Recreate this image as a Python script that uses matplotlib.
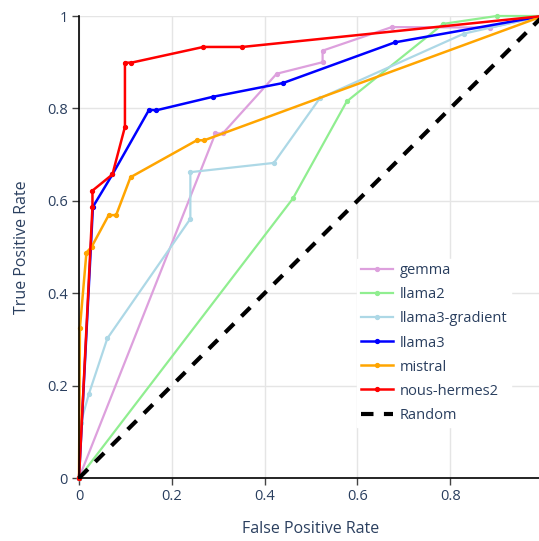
import matplotlib.pyplot as plt

# ROC points
gemma_fpr = [0, 0.294, 0.31, 0.426, 0.525, 0.525, 0.674, 0.886, 1.0]
gemma_tpr = [0, 0.746, 0.746, 0.875, 0.900, 0.925, 0.976, 0.975, 1.0]

llama2_fpr = [0, 0.461, 0.577, 0.785, 0.90, 1.0]
llama2_tpr = [0, 0.605, 0.815, 0.983, 1.0, 1.0]

llama3g_fpr = [0, 0.004, 0.021, 0.061, 0.240, 0.240, 0.420, 0.519, 0.83, 1.0]
llama3g_tpr = [0, 0.12, 0.181, 0.302, 0.561, 0.662, 0.682, 0.822, 0.962, 1.0]

llama3_fpr = [0, 0.030, 0.072, 0.151, 0.167, 0.288, 0.440, 0.681, 1.0]
llama3_tpr = [0, 0.587, 0.657, 0.797, 0.796, 0.825, 0.855, 0.943, 1.0]

mistral_fpr = [0, 0.002, 0.016, 0.027, 0.064, 0.080, 0.111, 0.254, 0.270, 1.0]
mistral_tpr = [0, 0.325, 0.488, 0.50, 0.569, 0.569, 0.651, 0.731, 0.731, 1.0]

hermes_fpr = [0, 0.029, 0.029, 0.072, 0.099, 0.099, 0.113, 0.268, 0.352, 1.0]
hermes_tpr = [0, 0.587, 0.622, 0.657, 0.760, 0.899, 0.899, 0.933, 0.933, 1.0]

random_x = [0, 1]
random_y = [0, 1]

ticks = [0, 0.2, 0.4, 0.6, 0.8, 1]
tick_labels = ['0', '0.2', '0.4', '0.6', '0.8', '1']

plt.rcParams['font.family'] = ['Open Sans', 'DejaVu Sans']
text_color = '#2a3f5f'

fig = plt.figure(figsize=(5.39, 5.41), dpi=100)
ax = fig.add_axes([79 / 539, 1 - 478 / 541, 464 / 539, 462 / 541])

series = [
    ('gemma', gemma_fpr, gemma_tpr, 'plum', 1.6),
    ('llama2', llama2_fpr, llama2_tpr, 'lightgreen', 1.6),
    ('llama3-gradient', llama3g_fpr, llama3g_tpr, 'lightblue', 1.6),
    ('llama3', llama3_fpr, llama3_tpr, 'blue', 1.8),
    ('mistral', mistral_fpr, mistral_tpr, 'orange', 1.8),
    ('nous-hermes2', hermes_fpr, hermes_tpr, 'red', 1.8),
]
for name, xs, ys, col, lw in series:
    ax.plot(xs, ys, color=col, lw=lw, marker='o', markersize=2.8,
            label=name, clip_on=False, solid_joinstyle='round')

ax.plot(random_x, random_y, color='black', lw=3, dashes=(3, 2.5),
        label='Random', clip_on=False)

ax.set_xlim(0, 1)
ax.set_ylim(0, 1)
ax.set_xticks(ticks[:-1])
ax.set_xticklabels(tick_labels[:-1])
ax.set_yticks(ticks)
ax.set_yticklabels(tick_labels)
ax.grid(True, color='#e5e5e5', lw=1)
ax.set_axisbelow(True)

for side in ['top', 'right']:
    ax.spines[side].set_visible(False)
for side in ['left', 'bottom']:
    ax.spines[side].set_color('black')
    ax.spines[side].set_linewidth(1.2)
ax.tick_params(axis='both', colors='#444444', labelcolor=text_color,
               labelsize=10.5, length=5, width=1, direction='out', pad=3)

ax.set_xlabel('False Positive Rate', fontsize=11.5, color=text_color, labelpad=12)
ax.set_ylabel('True Positive Rate', fontsize=11.5, color=text_color, labelpad=12)

leg = ax.legend(loc='upper left', bbox_to_anchor=(357 / 539, 1 - 259 / 541),
                bbox_transform=fig.transFigure, frameon=True, fontsize=10.5,
                handlelength=2.2, handletextpad=0.4, labelspacing=0.62,
                borderpad=0.3, borderaxespad=0)
leg.get_frame().set_facecolor('white')
leg.get_frame().set_edgecolor('white')
leg.get_frame().set_alpha(1)
leg.get_frame().set_boxstyle('square', pad=0)
for t in leg.get_texts():
    t.set_color(text_color)

fig.savefig('out.png', dpi=100)
